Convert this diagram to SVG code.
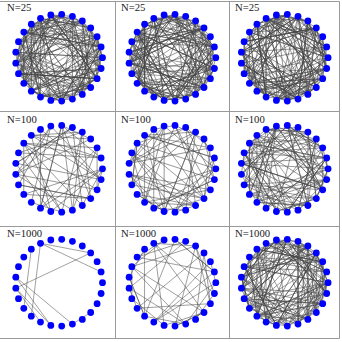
<svg xmlns="http://www.w3.org/2000/svg" xmlns:xlink="http://www.w3.org/1999/xlink" width="342" height="342" viewBox="0 0 342 342">
<style>
.grid{stroke:#9a9a9a;stroke-width:1;fill:none}
.edge{stroke:#444;stroke-width:0.5;fill:none}
.node{fill:#0000ff}
.lbl{font-family:"Liberation Serif","Times New Roman",serif;font-size:10.7px;fill:#222}
</style>
<defs>
<path id="pA" d="M43.5 0L-8.2-42.7M42.1-10.8L-35.2-25.6M38.1-21L2.7 43.4M31.7-29.8L13.4-41.4M23.3-36.7L-40.5 16M13.4-41.4L31.7 29.8M2.7-43.4L-40.5-16M-8.2-42.7L-35.2 25.6M-18.5-39.4L-40.5 16M-27.7-33.5L42.1 10.8M-35.2-25.6L-8.2 42.7M-40.5-16L38.1-21M-43.2-5.5L23.3 36.7M-43.2 5.5L23.3-36.7M-40.5 16L38.1 21M-35.2 25.6L42.1-10.8M-27.7 33.5L-27.7-33.5M-18.5 39.4L-35.2-25.6M-8.2 42.7L31.7-29.8M2.7 43.4L-43.2-5.5M13.4 41.4L38.1-21M-35.2 25.6L31.7-29.8M31.7 29.8L-40.5-16M38.1 21L-18.5 39.4M42.1 10.8L-27.7 33.5"/>
<path id="pB" d="M43.5 0L31.7-29.8M43.5 0L-35.2-25.6M42.1-10.8L2.7-43.4M38.1-21L-27.7-33.5M31.7-29.8L-18.5 39.4M23.3-36.7L-35.2-25.6M13.4-41.4L-40.5 16M2.7-43.4L38.1 21M-8.2-42.7L-43.2-5.5M-18.5-39.4L38.1 21M-27.7-33.5L23.3 36.7M-35.2-25.6L-18.5 39.4M-40.5-16L2.7 43.4M-43.2-5.5L31.7 29.8M-43.2 5.5L-27.7 33.5M-40.5 16L31.7-29.8M-35.2 25.6L31.7 29.8M-27.7 33.5L-8.2-42.7M-18.5 39.4L42.1-10.8M-8.2 42.7L31.7 29.8M2.7 43.4L42.1-10.8M13.4 41.4L42.1 10.8M23.3 36.7L23.3-36.7M38.1 21L-8.2-42.7M42.1 10.8L-40.5 16"/>
<path id="pC" d="M43.5 0L38.1-21M31.7-29.8L-8.2-42.7M13.4-41.4L-27.7-33.5M-18.5-39.4L-40.5-16M-35.2-25.6L-35.2 25.6M-43.2-5.5L-40.5 16M-43.2 5.5L-8.2 42.7M-27.7 33.5L13.4 41.4M-18.5 39.4L31.7 29.8M2.7 43.4L38.1 21M23.3 36.7L42.1 10.8M38.1 21L42.1-10.8M42.1 10.8L31.7-29.8M2.7-43.4L-27.7-33.5M-40.5-16L-27.7 33.5"/>
<g id="ring">
<circle class="node" r="3.4" cx="43.5" cy="0"/>
<circle class="node" r="3.4" cx="42.1" cy="-10.8"/>
<circle class="node" r="3.4" cx="38.1" cy="-21"/>
<circle class="node" r="3.4" cx="31.7" cy="-29.8"/>
<circle class="node" r="3.4" cx="23.3" cy="-36.7"/>
<circle class="node" r="3.4" cx="13.4" cy="-41.4"/>
<circle class="node" r="3.4" cx="2.7" cy="-43.4"/>
<circle class="node" r="3.4" cx="-8.2" cy="-42.7"/>
<circle class="node" r="3.4" cx="-18.5" cy="-39.4"/>
<circle class="node" r="3.4" cx="-27.7" cy="-33.5"/>
<circle class="node" r="3.4" cx="-35.2" cy="-25.6"/>
<circle class="node" r="3.4" cx="-40.5" cy="-16"/>
<circle class="node" r="3.4" cx="-43.2" cy="-5.5"/>
<circle class="node" r="3.4" cx="-43.2" cy="5.5"/>
<circle class="node" r="3.4" cx="-40.5" cy="16"/>
<circle class="node" r="3.4" cx="-35.2" cy="25.6"/>
<circle class="node" r="3.4" cx="-27.7" cy="33.5"/>
<circle class="node" r="3.4" cx="-18.5" cy="39.4"/>
<circle class="node" r="3.4" cx="-8.2" cy="42.7"/>
<circle class="node" r="3.4" cx="2.7" cy="43.4"/>
<circle class="node" r="3.4" cx="13.4" cy="41.4"/>
<circle class="node" r="3.4" cx="23.3" cy="36.7"/>
<circle class="node" r="3.4" cx="31.7" cy="29.8"/>
<circle class="node" r="3.4" cx="38.1" cy="21"/>
<circle class="node" r="3.4" cx="42.1" cy="10.8"/>
</g>
</defs>
<g id="grid" class="grid">
<path d="M0 1.5H339.5M0 111.5H339.5M0 226.5H339.5M0 338.5H339.5M115.5 1.5V338.5M229.5 1.5V338.5M339.5 1.5V338.5"/>
</g>
<g id="connectors" class="edge">
<g id="edges-1" transform="translate(59 57.7)">
<use href="#pA"/><use href="#pB"/><use href="#pA" transform="rotate(43.2)"/><use href="#pB" transform="rotate(129.6)"/><use href="#pA" transform="rotate(187.2)"/><use href="#pB" transform="scale(1 -1) rotate(72)"/><use href="#pC"/><use href="#pC" transform="rotate(100.8)"/>
</g>
<g id="edges-2" transform="translate(172.3 57.7)">
<use href="#pA" transform="rotate(14.4)"/><use href="#pB" transform="rotate(57.6)"/><use href="#pA" transform="rotate(230.4)"/><use href="#pB" transform="rotate(288)"/><use href="#pA" transform="scale(1 -1)"/><use href="#pB" transform="scale(1 -1) rotate(158.4)"/><use href="#pC" transform="rotate(28.8)"/><use href="#pC" transform="rotate(216)"/>
</g>
<g id="edges-3" transform="translate(284.6 57.7)">
<use href="#pA" transform="rotate(100.8)"/><use href="#pB" transform="rotate(28.8)"/><use href="#pA" transform="rotate(273.6)"/><use href="#pB" transform="rotate(201.6)"/><use href="#pA" transform="scale(1 -1) rotate(115.2)"/><use href="#pB" transform="scale(1 -1) rotate(316.8)"/><use href="#pC" transform="rotate(57.6)"/><use href="#pC" transform="rotate(244.8)"/>
</g>
<g id="edges-4" transform="translate(59 168.8)">
<use href="#pA" transform="rotate(72)"/><use href="#pB" transform="rotate(316.8)"/>
</g>
<g id="edges-5" transform="translate(172.3 168.8)">
<use href="#pA" transform="rotate(259.2)"/><use href="#pB" transform="rotate(144)"/><use href="#pC" transform="rotate(86.4)"/>
</g>
<g id="edges-6" transform="translate(284.6 168.8)">
<use href="#pA" transform="rotate(43.2)"/><use href="#pB"/><use href="#pA" transform="scale(1 -1) rotate(187.2)"/><use href="#pB" transform="rotate(230.4)"/><use href="#pC" transform="rotate(14.4)"/>
</g>
<g id="edges-7" transform="translate(59 282.7)">
<path d="M-18.5-39.4L31.7-29.8M-18.5-39.4L42.1-10.8M31.7-29.8L-43.2 5.5M-18.5-39.4L-27.7 33.5M-27.7-33.5L-35.2 25.6M-43.2-5.5L-8.2 42.7M-43.2 5.5L-18.5 39.4M-43.2 5.5L-8.2 42.7M-43.2-5.5L13.4 41.4M13.4 41.4L31.7 29.8"/>
</g>
<g id="edges-8" transform="translate(172.3 282.7)">
<use href="#pB" transform="rotate(86.4)"/><use href="#pC" transform="rotate(172.8)"/>
</g>
<g id="edges-9" transform="translate(284.6 282.7)">
<use href="#pA" transform="rotate(158.4)"/><use href="#pB" transform="rotate(273.6)"/><use href="#pA" transform="rotate(331.2)"/><use href="#pB" transform="scale(1 -1) rotate(43.2)"/><use href="#pA" transform="scale(1 -1) rotate(259.2)"/><use href="#pC" transform="rotate(129.6)"/><use href="#pC" transform="rotate(302.4)"/>
</g>
</g>
<g id="nodes">
<use id="nodes-1" href="#ring" x="59" y="57.7"/>
<use id="nodes-2" href="#ring" x="172.3" y="57.7"/>
<use id="nodes-3" href="#ring" x="284.6" y="57.7"/>
<use id="nodes-4" href="#ring" x="59" y="168.8"/>
<use id="nodes-5" href="#ring" x="172.3" y="168.8"/>
<use id="nodes-6" href="#ring" x="284.6" y="168.8"/>
<use id="nodes-7" href="#ring" x="59" y="282.7"/>
<use id="nodes-8" href="#ring" x="172.3" y="282.7"/>
<use id="nodes-9" href="#ring" x="284.6" y="282.7"/>
</g>
<g id="labels" class="lbl">
<text x="7" y="11">N=25</text>
<text x="121" y="11">N=25</text>
<text x="235" y="11">N=25</text>
<text x="7" y="122.7">N=100</text>
<text x="121" y="122.7">N=100</text>
<text x="235" y="122.7">N=100</text>
<text x="7" y="236.7">N=1000</text>
<text x="121" y="236.7">N=1000</text>
<text x="235" y="236.7">N=1000</text>
</g>
</svg>
